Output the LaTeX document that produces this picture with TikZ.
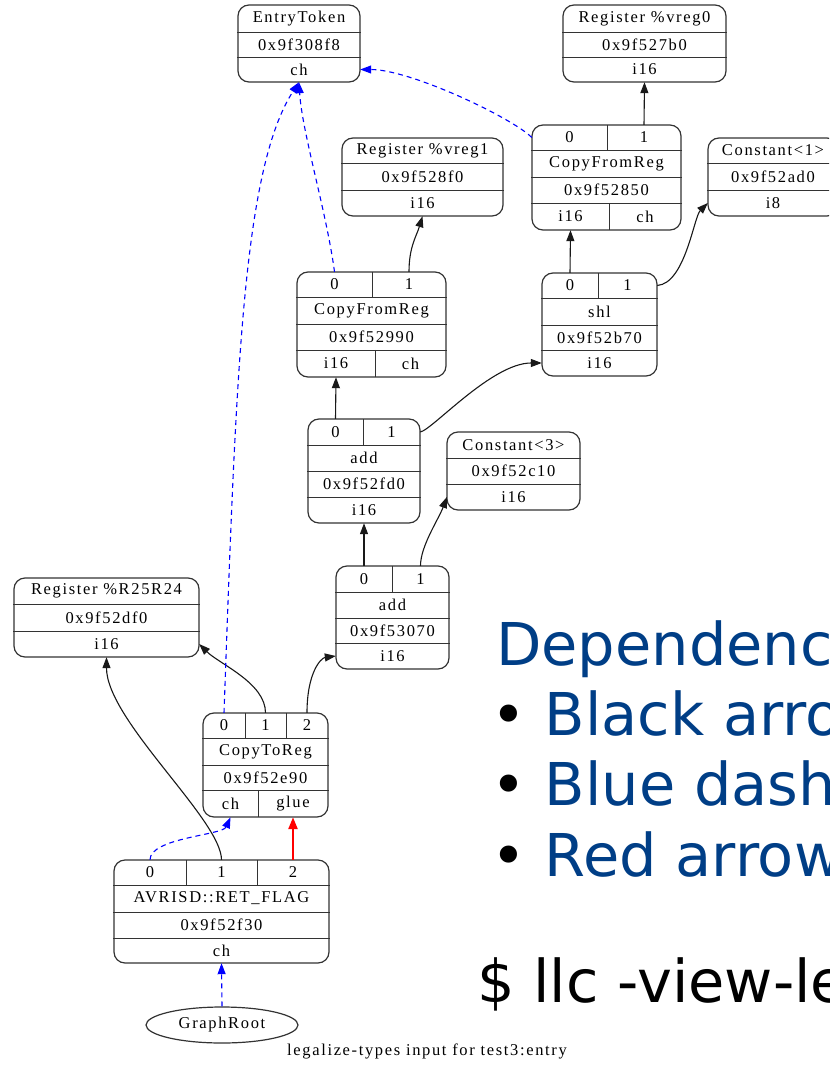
\documentclass[tikz,border=0pt]{standalone}
\usepackage{fontspec}
\setmainfont{Liberation Serif}
\newfontfamily\recordfont{Liberation Serif}[LetterSpace=10]
\newfontfamily\slidefont{DejaVu Sans}
\usetikzlibrary{arrows.meta,shapes.geometric}
\definecolor{slideblue}{RGB}{0,62,134}
\begin{document}
\begin{tikzpicture}
[x=1pt,y=-1pt,
 recorddecorate/.style={shape=rectangle,draw=black!80,line width=1.2pt,rounded corners=11pt,inner sep=0pt},%
 celldecorate/.style={shape=rectangle,inner sep=0pt,font=\fontsize{16.5}{18}\recordfont},%
 rootdecorate/.style={shape=ellipse,draw=black!80,line width=1.2pt,inner sep=0pt,minimum width=152,minimum height=36,font=\fontsize{16.5}{18}\recordfont},%
 linedecorate/.style={line width=1.2pt,black!80},%
 datadecorate/.style={-{Triangle[length=11pt,width=8pt]},line width=1.1pt,black!90},%
 chaindecorate/.style={-{Triangle[length=11pt,width=8pt]},blue,line width=1.1pt,dash pattern=on 5pt off 4pt},%
 gluedecorate/.style={-{Triangle[length=12pt,width=9pt]},red,line width=2.4pt},%
 slidedecorate/.style={anchor=base west,inner sep=0pt,font=\fontsize{59}{70}\slidefont}]
\useasboundingbox (0,0) rectangle (829,1067);
\clip (0,0) rectangle (829,1067);
%% records
\foreach \nodename/\xa/\ya/\xb/\yb in {
  et/238/5/360/82, reg0/563/5/726/82, cfa/532/125/681/230,
  cst1/708/138/838/216, reg1/342/138/503/216, cfb/297/272/446/377,
  shl/542/273/657/376, adda/308/419/420/523, cst3/447/432/580/510,
  addb/336/566/449/669, regr/14/578/199/657, ctr/203/713/328/817,
  ret/114/860/329/963} {
  \node (\nodename) at ({(\xa+\xb)/2},{(\ya+\yb)/2}) [recorddecorate,minimum width=\xb-\xa,minimum height=\yb-\ya] {};
}
%% fields of the records
\foreach \cellname/\x/\y/\w/\h/\celltext in {
  et-t/299/18.5/122/27/EntryToken, et-a/299/44.5/122/25/0x9f308f8, et-v/299/69.5/122/25/ch,
  reg0-t/644.5/18.5/163/27/Register \%vreg0, reg0-a/644.5/44.5/163/25/0x9f527b0, reg0-v/644.5/69.5/163/25/i16,
  cfa-0/569.5/137.5/75/25/0, cfa-1/644/137.5/74/25/1, cfa-t/606.5/163.5/149/27/CopyFromReg,
  cfa-a/606.5/190/149/26/0x9f52850, cfa-v0/570.5/216.5/77/27/i16, cfa-v1/645/216.5/72/27/ch,
  cst1-t/773/150.5/130/25/Constant<1>, cst1-a/773/176.5/130/27/0x9f52ad0, cst1-v/773/203/130/26/i8,
  reg1-t/422.5/150.5/161/25/Register \%vreg1, reg1-a/422.5/176.5/161/27/0x9f528f0, reg1-v/422.5/203/161/26/i16,
  cfb-0/334.5/284.5/75/25/0, cfb-1/409/284.5/74/25/1, cfb-t/371.5/310.5/149/27/CopyFromReg,
  cfb-a/371.5/337/149/26/0x9f52990, cfb-v0/336/363.5/78/27/i16, cfb-v1/410.5/363.5/71/27/ch,
  shl-0/570/285.5/56/25/0, shl-1/627.5/285.5/59/25/1, shl-t/599.5/311.5/115/27/shl,
  shl-a/599.5/337.5/115/25/0x9f52b70, shl-v/599.5/363/115/26/i16,
  adda-0/335.5/432/55/26/0, adda-1/391.5/432/57/26/1, adda-t/364/458/112/26/add,
  adda-a/364/484/112/26/0x9f52fd0, adda-v/364/510/112/26/i16,
  cst3-t/513.5/445/133/26/Constant<3>, cst3-a/513.5/471/133/26/0x9f52c10, cst3-v/513.5/497/133/26/i16,
  addb-0/364/579/56/26/0, addb-1/420.5/579/57/26/1, addb-t/392.5/605/113/26/add,
  addb-a/392.5/630.5/113/25/0x9f53070, addb-v/392.5/656/113/26/i16,
  regr-t/106.5/591/185/26/Register \%R25R24, regr-a/106.5/617.5/185/27/0x9f52df0, regr-v/106.5/644/185/26/i16,
  ctr-0/224/725.5/42/25/0, ctr-1/265.5/725.5/41/25/1, ctr-2/307/725.5/42/25/2,
  ctr-t/265.5/751.5/125/27/CopyToReg, ctr-a/265.5/777.5/125/25/0x9f52e90,
  ctr-v0/230.5/803.5/55/27/ch, ctr-v1/293/803.5/70/27/glue,
  ret-0/150/872.5/72/25/0, ret-1/221.5/872.5/71/25/1, ret-2/293/872.5/72/25/2,
  ret-t/221.5/898.5/215/27/AVRISD::RET\_FLAG, ret-a/221.5/925/215/26/0x9f52f30, ret-v/221.5/950.5/215/25/ch} {
  \node (\cellname) at (\x,\y) [celldecorate,minimum width=\w,minimum height=\h] {\celltext};
}
%% rules between the fields
\foreach \nodename/\cellname in {
  et/et-t, et/et-a, reg0/reg0-t, reg0/reg0-a, cfa/cfa-0, cfa/cfa-t, cfa/cfa-a,
  cst1/cst1-t, cst1/cst1-a, reg1/reg1-t, reg1/reg1-a, cfb/cfb-0, cfb/cfb-t, cfb/cfb-a,
  shl/shl-0, shl/shl-t, shl/shl-a, adda/adda-0, adda/adda-t, adda/adda-a,
  cst3/cst3-t, cst3/cst3-a, addb/addb-0, addb/addb-t, addb/addb-a,
  regr/regr-t, regr/regr-a, ctr/ctr-0, ctr/ctr-t, ctr/ctr-a, ret/ret-0, ret/ret-t, ret/ret-a} {
  \draw[linedecorate] (\nodename.west |- \cellname.south) -- (\nodename.east |- \cellname.south);
}
\foreach \cellname in {cfa-0, cfa-v0, cfb-0, cfb-v0, shl-0, adda-0, addb-0, ctr-0, ctr-1, ctr-v0, ret-0, ret-1} {
  \draw[linedecorate] (\cellname.north east) -- (\cellname.south east);
}
\node (gr) at (222,1025) [rootdecorate] {GraphRoot};
\node (caption) at (427,1051) [celldecorate,font=\fontsize{16.5}{18}\recordfont] {legalize-types input for test3:entry};
%% edges or lines
\draw[datadecorate] (cfa-1.north) -- (reg0-v.south);
\draw[datadecorate] (shl-0.north) -- (cfa-v0.south);
\draw[datadecorate] (shl-1.east) .. controls +(28,-2) and +(-14,14) .. (cst1-v.west);
\draw[datadecorate] (cfb-1.north) .. controls +(0,-25) and +(-6,20) .. (reg1-v.south);
\draw[datadecorate] (adda-0.north) -- (cfb-v0.south);
\draw[datadecorate] (adda-1.east) .. controls +(12,-2) and +(-50,0) .. (shl-v.west);
\draw[datadecorate] (addb-0.north) -- (adda-v.south);
\draw[datadecorate] (addb-1.north) .. controls +(0,-20) and +(-8,22) .. (cst3-v.west);
\draw[datadecorate] (ctr-1.north) .. controls +(0,-30) and +(20,20) .. (regr-v.east);
\draw[datadecorate] (ctr-2.north) .. controls +(0,-40) and +(-15,2) .. (addb-v.west);
\draw[datadecorate] (ret-1.north) .. controls +(0,-40) and +(0,63) .. (regr-v.south);
\draw[gluedecorate] (ret-2.north) -- (ctr-v1.south);
\draw[chaindecorate] (gr.north) -- (ret-v.south);
\draw[chaindecorate] (ret-0.north) .. controls +(0,-22) and +(-8,18) .. (ctr-v0.south);
\draw[chaindecorate] (ctr-0.north) .. controls (236,380) and (242,170) .. (et-v.south);
\draw[chaindecorate] (cfb-0.north) .. controls +(-8,-60) and +(3,50) .. (et-v.south);
\draw[chaindecorate] (cfa-0.west) .. controls +(-20,-20) and +(50,0) .. (et-v.east);
%% slide text
\node (heading) at (496,665) [slidedecorate,text=slideblue] {Dependenc};
\node (item1) at (491,735) [slidedecorate,text=slideblue] {\textcolor{black}{•} Black arro};
\node (item2) at (491,805) [slidedecorate,text=slideblue] {\textcolor{black}{•} Blue dash};
\node (item3) at (491,876) [slidedecorate,text=slideblue] {\textcolor{black}{•} Red arrow};
\node (command) at (477,1002) [slidedecorate] {\$ llc -view-le};
\end{tikzpicture}
\end{document}
